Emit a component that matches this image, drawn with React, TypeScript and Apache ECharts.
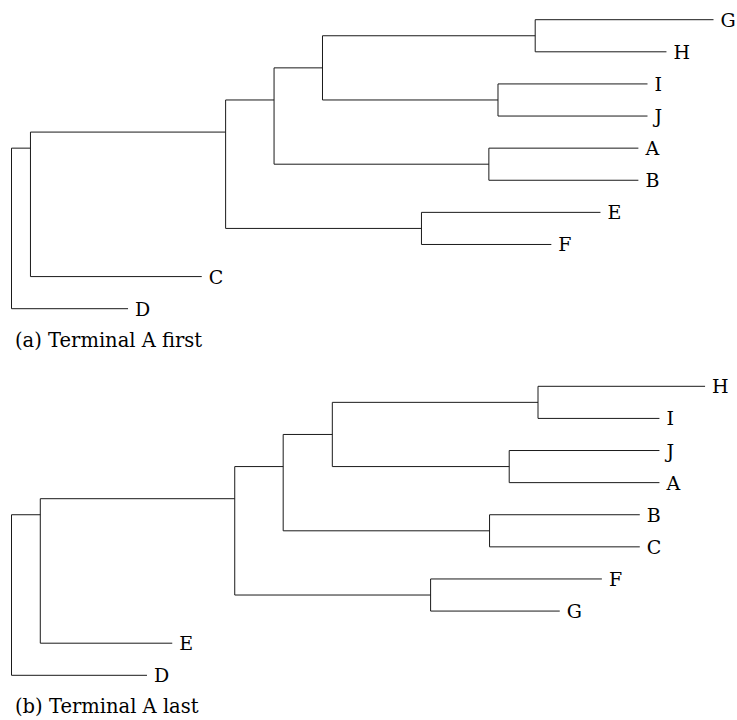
import React, { useEffect, useRef } from "react";
import * as echarts from "echarts";

// Panel (a): leaf order top->bottom, tip depths
const LEAVES_A = ["G", "H", "I", "J", "A", "B", "E", "F", "C", "D"];
const LEAF_DEPTH_A = [100, 93.3, 90.6, 90.6, 89.3, 89.3, 83.9, 76.9, 27.1, 16.6];
const NODE_DEPTH_A = [74.6, 69.3, 68.0, 58.4, 44.3, 37.4, 30.5, 2.7, 0];

// Panel (b)
const LEAVES_B = ["H", "I", "J", "A", "B", "C", "F", "G", "E", "D"];
const LEAF_DEPTH_B = [98.8, 92.3, 92.3, 92.3, 89.5, 89.5, 84.1, 78.1, 22.9, 19.3];
const NODE_DEPTH_B = [75.0, 70.9, 68.1, 59.7, 45.7, 38.7, 31.8, 4.1, 0];

// Shared topology: internal node k has id 10+k; leaves are 0..9
const NODE_CHILDREN = [
  [0, 1],
  [2, 3],
  [4, 5],
  [6, 7],
  [10, 11],
  [14, 12],
  [15, 13],
  [16, 8],
  [17, 9],
];

const CAPTIONS = ["(a) Terminal A first", "(b) Terminal A last"];

const FONT = "'DejaVu Serif', serif";

function buildTree(leafDepth: number[], nodeDepth: number[]) {
  const nLeaf = leafDepth.length;
  const leafSets: number[][] = [];
  for (let i = 0; i < nLeaf; i++) leafSets[i] = [i];
  const depth: number[] = leafDepth.slice();
  NODE_CHILDREN.forEach((ch, k) => {
    const id = nLeaf + k;
    leafSets[id] = ch.reduce((acc: number[], c) => acc.concat(leafSets[c]), []);
    depth[id] = nodeDepth[k];
  });
  const y = leafSets.map((s) => s.reduce((a, b) => a + b, 0) / s.length);
  const segs: number[][] = [];
  NODE_CHILDREN.forEach((ch, k) => {
    const id = nLeaf + k;
    const d = depth[id];
    const ys = ch.map((c) => y[c]);
    segs.push([d, Math.min(...ys), d, Math.max(...ys)]);
    ch.forEach((c) => segs.push([d, y[c], depth[c], y[c]]));
  });
  return segs;
}

export default function App() {
  const ref = useRef<HTMLDivElement>(null);
  useEffect(() => {
    document.body.style.margin = "0";
    const chart = echarts.init(ref.current!, undefined, { renderer: "svg" });
    const segA = buildTree(LEAF_DEPTH_A, NODE_DEPTH_A);
    const segB = buildTree(LEAF_DEPTH_B, NODE_DEPTH_B);
    const renderLine = (params: any, api: any) => {
      const p1 = api.coord([api.value(0), api.value(1)]);
      const p2 = api.coord([api.value(2), api.value(3)]);
      return {
        type: "line",
        shape: { x1: p1[0], y1: p1[1], x2: p2[0], y2: p2[1] },
        style: { stroke: "#1a1a1a", lineWidth: 1 },
      };
    };
    const lineSeries = (idx: number, segs: number[][]) => ({
      type: "custom",
      xAxisIndex: idx,
      yAxisIndex: idx,
      clip: false,
      silent: true,
      renderItem: renderLine,
      encode: { x: [0, 2], y: [1, 3] },
      data: segs,
    });
    const labelSeries = (idx: number, names: string[], depths: number[]) => ({
      type: "custom",
      xAxisIndex: idx,
      yAxisIndex: idx,
      clip: false,
      silent: true,
      encode: { x: 0, y: 1 },
      data: names.map((n, i) => [depths[i], i, n]),
      renderItem: (params: any, api: any) => {
        const p = api.coord([api.value(0), api.value(1)]);
        return {
          type: "text",
          x: p[0] + 7,
          y: p[1],
          style: {
            text: names[params.dataIndex],
            font: `19px ${FONT}`,
            fill: "#000",
            align: "left",
            verticalAlign: "middle",
          },
        };
      },
    });
    chart.setOption({
      animation: false,
      grid: [
        { left: 11.5, width: 702, top: 19.7, height: 289 },
        { left: 11.5, width: 702, top: 386.3, height: 289 },
      ],
      xAxis: [
        { type: "value", gridIndex: 0, min: 0, max: 100, show: false },
        { type: "value", gridIndex: 1, min: 0, max: 100, show: false },
      ],
      yAxis: [
        { type: "value", gridIndex: 0, min: 0, max: 9, inverse: true, show: false },
        { type: "value", gridIndex: 1, min: 0, max: 9, inverse: true, show: false },
      ],
      series: [
        lineSeries(0, segA),
        lineSeries(1, segB),
        labelSeries(0, LEAVES_A, LEAF_DEPTH_A),
        labelSeries(1, LEAVES_B, LEAF_DEPTH_B),
      ],
      graphic: CAPTIONS.map((t, i) => ({
        type: "text",
        x: 15,
        y: i === 0 ? 340 : 706.5,
        style: {
          text: t,
          font: `19.5px ${FONT}`,
          fill: "#000",
          textAlign: "left",
          textVerticalAlign: "middle",
        },
      })),
    });
    return () => chart.dispose();
  }, []);
  return <div ref={ref} style={{ width: 737, height: 720 }} />;
}
